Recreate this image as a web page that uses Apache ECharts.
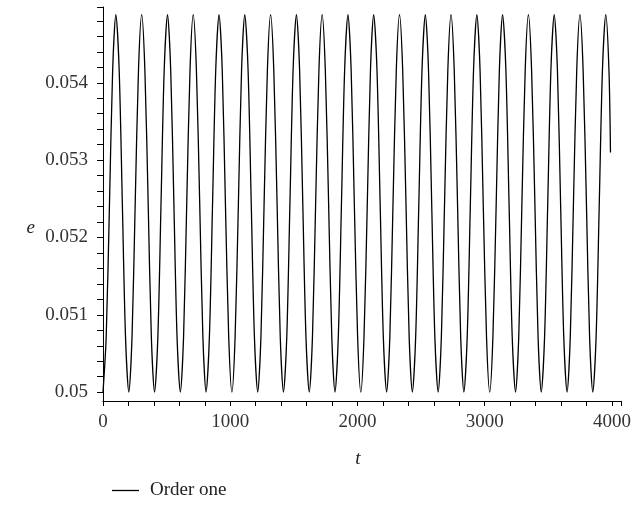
<!DOCTYPE html>
<html>
<head>
<meta charset="utf-8">
<script src="https://cdn.jsdelivr.net/npm/echarts@6/dist/echarts.min.js"></script>
<style>html,body{margin:0;padding:0;background:#fff}#c{width:634px;height:508px}</style>
</head>
<body>
<div id="c"></div>
<script>
// time samples (t), one row per cycle
var tValues = [
  0, 25, 51, 76, 101, 127, 152, 177,
  203, 228, 253, 279, 304, 329, 355, 380,
  405, 431, 456, 481, 507, 532, 557, 582,
  608, 633, 658, 684, 709, 734, 760, 785,
  810, 836, 861, 886, 912, 937, 962, 988,
  1013, 1038, 1064, 1089, 1114, 1140, 1165, 1190,
  1216, 1241, 1266, 1292, 1317, 1342, 1368, 1393,
  1418, 1444, 1469, 1494, 1520, 1545, 1570, 1595,
  1621, 1646, 1671, 1697, 1722, 1747, 1773, 1798,
  1823, 1849, 1874, 1899, 1925, 1950, 1975, 2001,
  2026, 2051, 2077, 2102, 2127, 2153, 2178, 2203,
  2229, 2254, 2279, 2305, 2330, 2355, 2381, 2406,
  2431, 2457, 2482, 2507, 2533, 2558, 2583, 2608,
  2634, 2659, 2684, 2710, 2735, 2760, 2786, 2811,
  2836, 2862, 2887, 2912, 2938, 2963, 2988, 3014,
  3039, 3064, 3090, 3115, 3140, 3166, 3191, 3216,
  3242, 3267, 3292, 3318, 3343, 3368, 3394, 3419,
  3444, 3470, 3495, 3520, 3546, 3571, 3596, 3621,
  3647, 3672, 3697, 3723, 3748, 3773, 3799, 3824,
  3849, 3875, 3900, 3925, 3951, 3976, 3988
];
// eccentricity readings e(t)
var eValues = [
  0.05000, 0.05071, 0.05244, 0.05417, 0.05488, 0.05417, 0.05244, 0.05071,
  0.05000, 0.05071, 0.05244, 0.05417, 0.05488, 0.05417, 0.05244, 0.05071,
  0.05000, 0.05071, 0.05244, 0.05417, 0.05488, 0.05417, 0.05244, 0.05071,
  0.05000, 0.05071, 0.05244, 0.05417, 0.05488, 0.05417, 0.05244, 0.05071,
  0.05000, 0.05071, 0.05244, 0.05417, 0.05488, 0.05417, 0.05244, 0.05071,
  0.05000, 0.05071, 0.05244, 0.05417, 0.05488, 0.05417, 0.05244, 0.05071,
  0.05000, 0.05071, 0.05244, 0.05417, 0.05488, 0.05417, 0.05244, 0.05071,
  0.05000, 0.05071, 0.05244, 0.05417, 0.05488, 0.05417, 0.05244, 0.05071,
  0.05000, 0.05071, 0.05244, 0.05417, 0.05488, 0.05417, 0.05244, 0.05071,
  0.05000, 0.05071, 0.05244, 0.05417, 0.05488, 0.05417, 0.05244, 0.05071,
  0.05000, 0.05071, 0.05244, 0.05417, 0.05488, 0.05417, 0.05244, 0.05071,
  0.05000, 0.05071, 0.05244, 0.05417, 0.05488, 0.05417, 0.05244, 0.05071,
  0.05000, 0.05071, 0.05244, 0.05417, 0.05488, 0.05417, 0.05244, 0.05071,
  0.05000, 0.05071, 0.05244, 0.05417, 0.05488, 0.05417, 0.05244, 0.05071,
  0.05000, 0.05071, 0.05244, 0.05417, 0.05488, 0.05417, 0.05244, 0.05071,
  0.05000, 0.05071, 0.05244, 0.05417, 0.05488, 0.05417, 0.05244, 0.05071,
  0.05000, 0.05071, 0.05244, 0.05417, 0.05488, 0.05417, 0.05244, 0.05071,
  0.05000, 0.05071, 0.05244, 0.05417, 0.05488, 0.05417, 0.05244, 0.05071,
  0.05000, 0.05071, 0.05244, 0.05417, 0.05488, 0.05417, 0.05244, 0.05071,
  0.05000, 0.05071, 0.05244, 0.05417, 0.05488, 0.05417, 0.05310
];
var xTickLabels = [0, 1000, 2000, 3000, 4000];
var xTicks = [0, 200, 400, 600, 800, 1000, 1200, 1400, 1600, 1800, 2000, 2200, 2400, 2600, 2800, 3000, 3200, 3400, 3600, 3800, 4000, 4070];
var yTickLabels = [0.050, 0.051, 0.052, 0.053, 0.054];
var yTicks = [0.0500, 0.0502, 0.0504, 0.0506, 0.0508, 0.0510, 0.0512, 0.0514, 0.0516, 0.0518,
              0.0520, 0.0522, 0.0524, 0.0526, 0.0528, 0.0530, 0.0532, 0.0534, 0.0536, 0.0538,
              0.0540, 0.0542, 0.0544, 0.0546, 0.0548, 0.05498];
var seriesName = 'Order one';

var points = tValues.map(function (t, i) { return [t, eValues[i]]; });
var font = '"Liberation Serif", "DejaVu Serif", serif';
var chart = echarts.init(document.getElementById('c'), null, {renderer: 'canvas'});
chart.setOption({
  animation: false,
  backgroundColor: '#ffffff',
  grid: {left: 103, right: 10, top: 7, bottom: 107, containLabel: false},
  xAxis: {
    type: 'value', min: 0, max: 4070,
    name: 't', nameLocation: 'middle', nameGap: 48,
    nameTextStyle: {fontFamily: font, fontStyle: 'italic', fontSize: 19, color: '#222', padding: [0, 8, 0, 0]},
    axisLine: {show: true, onZero: false, lineStyle: {color: '#000', width: 1}},
    axisTick: {show: true, length: 5, inside: false, customValues: xTicks, lineStyle: {color: '#000'}},
    axisLabel: {customValues: xTickLabels, fontFamily: font, fontSize: 19, color: '#333', margin: 12,
      showMinLabel: true, showMaxLabel: true,
      formatter: function (v) { return String(Math.round(v)); }},
    splitLine: {show: false}
  },
  yAxis: {
    type: 'value', min: 0.049886, max: 0.05498,
    name: 'e', nameLocation: 'middle', nameGap: 68, nameRotate: 0,
    nameTextStyle: {fontFamily: font, fontStyle: 'italic', fontSize: 19, color: '#222',
      verticalAlign: 'top', padding: [14, 0, 0, 0]},
    axisLine: {show: true, onZero: false, lineStyle: {color: '#000', width: 1}},
    axisTick: {show: true, length: 6, inside: false, customValues: yTicks, lineStyle: {color: '#000'}},
    axisLabel: {customValues: yTickLabels, fontFamily: font, fontSize: 19, color: '#333', margin: 15,
      formatter: function (v) { return String(parseFloat(v.toFixed(4))); }},
    splitLine: {show: false}
  },
  legend: {
    left: 107, top: 476, icon: 'rect', itemWidth: 27, itemHeight: 1.3,
    itemStyle: {color: '#000', borderWidth: 0},
    textStyle: {fontFamily: font, fontSize: 19, color: '#222', padding: [0, 0, 0, 6]},
    data: [seriesName]
  },
  series: [{
    name: seriesName, type: 'line', data: points, showSymbol: false, symbol: 'none',
    smooth: 0.3,
    lineStyle: {color: '#000', width: 1.3}, itemStyle: {color: '#000'}
  }]
});
</script>
</body>
</html>
